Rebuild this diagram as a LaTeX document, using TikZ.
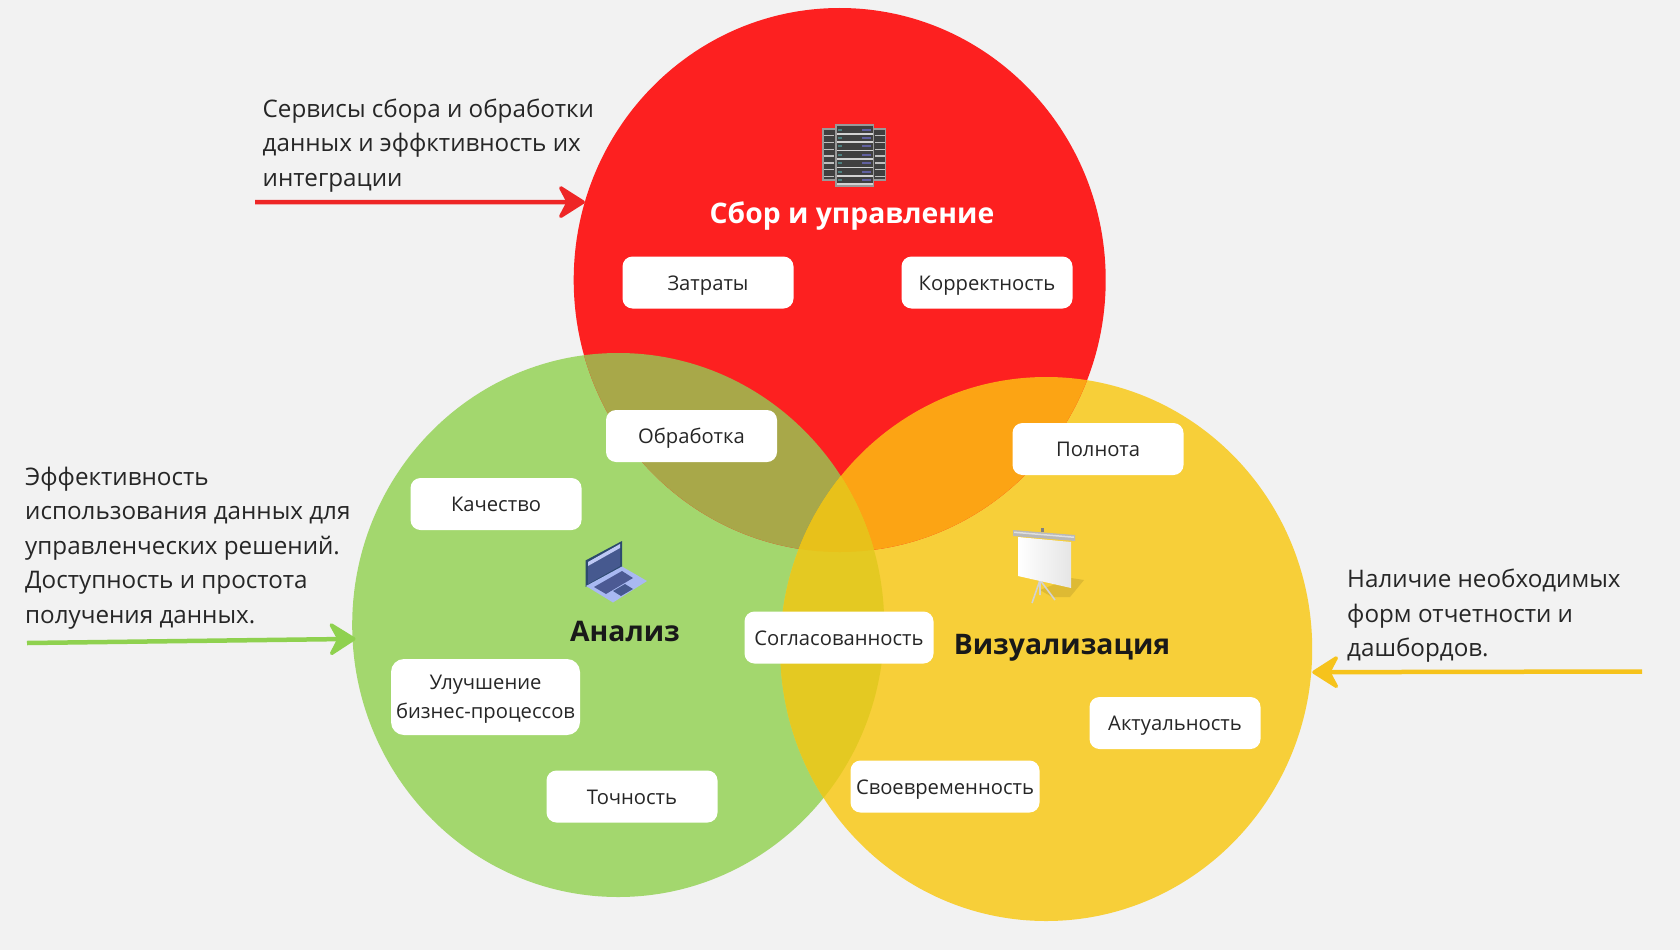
\documentclass[tikz,border=0pt]{standalone}
\usepackage{fontspec}
\setmainfont{Open Sans}
\usepackage{xcolor}
\usepackage{tikz}
\usetikzlibrary{arrows.meta,positioning,shapes.geometric}
\definecolor{bgcol}{HTML}{F2F2F2}
\definecolor{redcol}{HTML}{FD2020}
\definecolor{greencol}{HTML}{A3D76E}
\definecolor{yellowcol}{HTML}{F7CF39}
\definecolor{redgreen}{HTML}{A8A849}
\definecolor{redyellow}{HTML}{FCA414}
\definecolor{greenyellow}{HTML}{E4C922}
\definecolor{allthree}{HTML}{E8C11A}
\definecolor{inkcol}{HTML}{262626}
\definecolor{redline}{HTML}{EE2626}
\definecolor{greenline}{HTML}{8FD14F}
\definecolor{yellowline}{HTML}{F6C31C}
\definecolor{lapedge}{HTML}{2C4A6E}
\definecolor{lapscreen}{HTML}{46598F}
\definecolor{lapstrip}{HTML}{BFC9F5}
\definecolor{lapbase}{HTML}{A9B9F2}
\definecolor{lapkeys}{HTML}{4C5A94}
\tikzstyle{area} = [ellipse, minimum width=532pt, minimum height=544pt, inner sep=0pt, outer sep=0pt]
\tikzstyle{tagbox} = [rectangle, rounded corners=10pt, fill=white, minimum width=171pt, minimum height=52pt, inner sep=0pt, align=center, text=inkcol, text height=19pt, text depth=4pt, font=\fontsize{20.2}{29}\selectfont]
\tikzstyle{widebox} = [tagbox, minimum width=189pt]
\tikzstyle{note} = [anchor=west, align=left, inner sep=0pt, text=inkcol, font=\fontsize{24.2}{34.55}\selectfont]
\tikzstyle{title} = [inner sep=0pt, text height=20pt, text depth=0pt, font=\fontsize{28.3}{34}\selectfont\bfseries]
\tikzstyle{arrow} = [line width=4.5pt, -{Stealth[length=30pt,width=38pt,inset=10pt,round,line width=3.5pt]}]

\begin{document}
\begin{tikzpicture}[x=1pt, y=-1pt, node distance=100pt]
  \useasboundingbox (0,0) rectangle (1680,950);
  \fill[bgcol] (0,0) rectangle (1680,950);
  %circles
  \node[area, fill=greencol](analysis) at (618.2,625){};
  \node[area, fill=yellowcol](visual) at (1046.2,649){};
  \node[area, fill=redcol](collect) at (839.7,280){};
  %overlaps
  \begin{scope}
    \clip (collect) ellipse (266 and 272);
    \fill[redgreen] (analysis) ellipse (266 and 272);
    \fill[redyellow] (visual) ellipse (266 and 272);
  \end{scope}
  \begin{scope}
    \clip (analysis) ellipse (266 and 272);
    \fill[greenyellow] (visual) ellipse (266 and 272);
    \clip (visual) ellipse (266 and 272);
    \fill[allthree] (collect) ellipse (266 and 272);
  \end{scope}
  %server icon
  \foreach \xa/\xb/\ya/\yb in {822/837/128/181, 871/886/128/181, 835/874/124/187}{
    \fill[gray!80] (\xa,\ya) rectangle (\xb,\yb);
    \fill[black!75] (\xa+1.5,\ya+2) rectangle (\xb-1.5,\yb-2);
  }
  \foreach \i in {0,...,6}{
    \fill[gray!35] (836.5,133+8.4*\i) rectangle (872.5,134.6+8.4*\i);
    \fill[gray!50] (823.5,135+6.8*\i) rectangle (834,136.4+6.8*\i);
    \fill[gray!50] (875,135+6.8*\i) rectangle (884.5,136.4+6.8*\i);
    \fill[blue!25!gray] (862,128.5+8.4*\i) rectangle (871,130.5+8.4*\i);
    \fill[teal!40!gray] (838,128.5+8.4*\i) rectangle (842,130.5+8.4*\i);
  }
  %laptop icon
  \fill[lapedge] (585.5,560.5) -- (622,541) -- (622,568) -- (585.5,587) -- cycle;
  \fill[lapscreen] (588,566) -- (620,548) -- (620,566) -- (588,584) -- cycle;
  \fill[lapstrip] (588,562) -- (620,544) -- (620,548) -- (588,566) -- cycle;
  \fill[lapbase] (586,586) -- (622,566.5) -- (647,581) -- (613,602.5) -- cycle;
  \fill[lapkeys] (594,587) -- (622,571) -- (633,578) -- (606,594) -- cycle;
  \fill[lapscreen] (613,591) -- (625,584) -- (633,589) -- (621,596) -- cycle;
  %screen icon
  \fill[yellowcol!90!black] (1071,578) -- (1084,580) -- (1070,597) -- (1052,597) -- (1040,590) -- cycle;
  \draw[gray!35!white, line width=1.6pt] (1040,580) -- (1032,603) (1040,580) -- (1055,600) (1040,580) -- (1040,595);
  \shade[left color=white, right color=gray!20] (1018,537) -- (1071,542) -- (1071,588) -- (1018,576) -- cycle;
  \fill[gray!55] (1013,530) -- (1075,535) -- (1075,541) -- (1013,536) -- cycle;
  \fill[gray!25] (1014,531.5) -- (1074,536.5) -- (1074,538) -- (1014,533) -- cycle;
  \fill[gray] (1041,528) rectangle (1043.5,532);
  %titles
  \node[title, text=white] (collecttitle) at (852,213){Сбор и управление};
  \node[title, text=black!90] (analysistitle) at (625,631){Анализ};
  \node[title, text=black!90] (visualtitle) at (1062,644){Визуализация};
  %boxes
  \node[tagbox] (costs) at (708,282.5){Затраты};
  \node[tagbox, right of = costs, xshift=179pt] (correct) {Корректность};
  \node[tagbox] (processing) at (691.5,436){Обработка};
  \node[tagbox] (fullness) at (1098,449){Полнота};
  \node[tagbox] (quality) at (496,504){Качество};
  \node[widebox] (consistency) at (839,637.5){Согласованность};
  \node[widebox, minimum height=76pt, rounded corners=13pt, text height=43pt, text depth=0pt] (improve) at (485.5,697){Улучшение\\бизнес-процессов};
  \node[tagbox] (accuracy) at (632,796.5){Точность};
  \node[tagbox] (relevance) at (1175,723){Актуальность};
  \node[widebox] (timely) at (945,786.5){Своевременность};
  %notes
  \node[note] (collectnote) at (262.5,145.5){Сервисы сбора и обработки\\данных и эффктивность их\\интеграции};
  \node[note] (analysisnote) at (25,548){Эффективность\\использования данных для\\управленческих решений.\\Доступность и простота\\получения данных.};
  \node[note] (visualnote) at (1347,616){Наличие необходимых\\форм отчетности и\\дашбордов.};
  %arrows
  \coordinate (collectfrom) at (255,202);
  \coordinate (analysisfrom) at (27,643);
  \coordinate (visualfrom) at (1642,671.5);
  \draw[arrow, color=redline] (collectfrom) -- (collect.163.3);
  \draw[arrow, color=greenline, shorten >=-3pt] (analysisfrom) -- (analysis.183.8);
  \draw[arrow, color=yellowline, shorten >=1pt] (visualfrom) -- (visual.355.3);
\end{tikzpicture}
\end{document}
